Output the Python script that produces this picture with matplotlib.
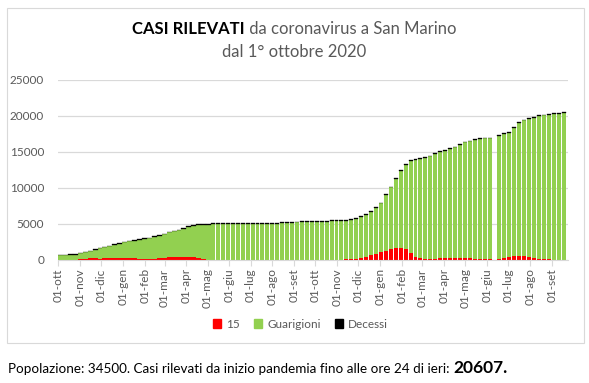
import numpy as np
import matplotlib
matplotlib.use("Agg")
import matplotlib.pyplot as plt
import matplotlib.dates as mdates
from matplotlib.patches import Patch, Rectangle
from matplotlib.ticker import FuncFormatter

plt.rcParams['font.family'] = ['Lato', 'DejaVu Sans']

# weekly readings starting 1 Oct 2020 (one value every 7 days)
start = np.datetime64('2020-10-01')

casi = [760, 760, 765, 780, 950, 1120, 1290, 1480, 1650, 1820,
        2000, 2180, 2350, 2500, 2640, 2760, 2900, 2990, 3120, 3280,
        3470, 3660, 3900, 4060, 4180, 4400, 4660, 4860, 4950, 4970,
        4980, 5080, 5090, 5095, 5100, 5105, 5110, 5110, 5115, 5120,
        5125, 5130, 5135, 5140, 5160, 5220, 5240, 5260, 5330, 5360,
        5370, 5380, 5390, 5395, 5410, 5490, 5500, 5510, 5540, 5640,
        5800, 6050, 6330, 6750, 7300, 7950, 9100, 10200, 11350, 12500,
        13350, 13870, 13980, 14150, 14320, 14500, 14800, 15100, 15300, 15600,
        15750, 16080, 16450, 16580, 16750, 16950, 16990, 17010, np.nan, 17330,
        17570, 17800, 18450, 19150, 19500, 19750, 19900, 20070, 20200, 20250,
        20350, 20400, 20490]

# "15" = positivi attivi
attivi = [20, 20, 30, 50, 150, 180, 330, 320, 150, 320,
          330, 310, 320, 300, 320, 300, 140, 130, 130, 140,
          280, 290, 450, 470, 470, 460, 450, 420, 260, 120,
          30, 30, 25, 20, 20, 20, 25, 30, 30, 35,
          40, 45, 50, 60, 60, 55, 50, 45, 40, 40,
          35, 30, 30, 30, 35, 40, 50, 60, 100, 190,
          200, 250, 380, 690, 830, 1050, 1300, 1550, 1700, 1700,
          1500, 950, 450, 250, 180, 170, 200, 260, 270, 260,
          280, 270, 260, 220, 200, 150, 120, 100, np.nan, 160,
          250, 420, 560, 570, 520, 380, 230, 150, 90, 70,
          60, 50, 40]

decessi = [42, 42, 42, 42, 44, 46, 48, 50, 52, 54,
           56, 58, 60, 62, 64, 66, 68, 69, 70, 72,
           74, 76, 78, 80, 82, 84, 86, 88, 89, 90,
           90, 90, 90, 90, 90, 90, 90, 90, 90, 90,
           90, 90, 90, 90, 91, 91, 91, 91, 91, 91,
           91, 91, 91, 91, 92, 92, 92, 92, 92, 93,
           94, 95, 96, 97, 98, 99, 100, 102, 104, 106,
           108, 110, 111, 112, 112, 113, 113, 113, 114, 114,
           114, 114, 115, 115, 115, 115, 115, 115, np.nan, 116,
           116, 116, 116, 117, 117, 117, 118, 118, 118, 118,
           118, 118, 118]

mesi = ['gen', 'feb', 'mar', 'apr', 'mag', 'giu',
        'lug', 'ago', 'set', 'ott', 'nov', 'dic']

casi = np.array(casi, dtype=float)
attivi = np.array(attivi, dtype=float)
decessi = np.array(decessi, dtype=float)
guarigioni = casi - attivi - decessi

giorni = start + np.arange(len(casi)) * np.timedelta64(7, 'D')
# first months drawn as a continuous block, later weeks with a thin white gap
larg = np.where(np.arange(len(casi)) <= 30, 7.0, 5.6)

fig = plt.figure(figsize=(5.89, 3.83), dpi=100)
ax = fig.add_axes([58 / 589, 1 - 260 / 383, 510 / 589, 180 / 383])

ax.bar(giorni, attivi, width=larg, align='edge', color='#FF0000', lw=0, antialiased=False)
ax.bar(giorni, guarigioni, width=larg, align='edge', bottom=attivi, color='#92D050',
       lw=0, antialiased=False)
ax.bar(giorni, decessi, width=larg, align='edge', bottom=attivi + guarigioni,
       color='black', edgecolor='black', lw=0.25)

ax.set_ylim(0, 25000)
ax.set_yticks(np.arange(0, 25001, 5000))
ax.set_xlim(start, start + np.timedelta64(723, 'D'))
ax.xaxis.set_major_locator(mdates.MonthLocator())
ax.xaxis.set_major_formatter(FuncFormatter(
    lambda x, pos: '01-' + mesi[mdates.num2date(x).month - 1]))

ax.yaxis.grid(True, color='#d9d9d9', lw=0.9)
ax.set_axisbelow(True)
for s in ['top', 'right', 'left']:
    ax.spines[s].set_visible(False)
ax.spines['bottom'].set_color('#d9d9d9')
ax.tick_params(axis='x', length=4, color='#d9d9d9', labelrotation=90,
               labelsize=8.5, labelcolor='#595959', pad=2)
ax.tick_params(axis='y', length=0, labelsize=8.5, labelcolor='#595959', pad=10)

fig.legend(handles=[Patch(color='#FF0000', label='15'),
                    Patch(color='#92D050', label='Guarigioni'),
                    Patch(color='black', label='Decessi')],
           loc='center', bbox_to_anchor=(0.51, 1 - 324 / 383), ncol=3,
           frameon=False, fontsize=8.5, handlelength=0.7, handleheight=0.7,
           handletextpad=0.4, columnspacing=1.2, labelcolor='#595959')

fig.add_artist(Rectangle((7 / 589, 1 - 343 / 383), 577 / 589, 335 / 383,
                         transform=fig.transFigure, fill=False,
                         edgecolor='#d9d9d9', lw=0.8))

# title: bold + regular on the same line
fig.canvas.draw()
r = fig.canvas.get_renderer()
t1 = fig.text(0, 1 - 29 / 383, 'CASI RILEVATI', fontsize=12, fontweight='bold',
              va='center', color='black')
t2 = fig.text(0, 1 - 29 / 383, ' da coronavirus a San Marino', fontsize=12,
              va='center', color='#595959')
w1 = t1.get_window_extent(r).width / fig.bbox.width
w2 = t2.get_window_extent(r).width / fig.bbox.width
x0 = 0.5 - (w1 + w2) / 2
t1.set_x(x0)
t2.set_x(x0 + w1)
fig.text(0.5, 1 - 52 / 383, 'dal 1° ottobre 2020', fontsize=12, ha='center',
         va='center', color='#595959')

# footnote
n1 = fig.text(8 / 589, 1 - 373 / 383,
              'Popolazione: 34500. Casi rilevati da inizio pandemia fino alle ore 24 di ieri: ',
              fontsize=9.7, va='baseline', color='black')
wn = n1.get_window_extent(r).width / fig.bbox.width
fig.text(8 / 589 + wn, 1 - 373 / 383, '20607.', fontsize=12.5, fontweight='bold',
         va='baseline', color='black')

fig.savefig('out.png', dpi=100)
